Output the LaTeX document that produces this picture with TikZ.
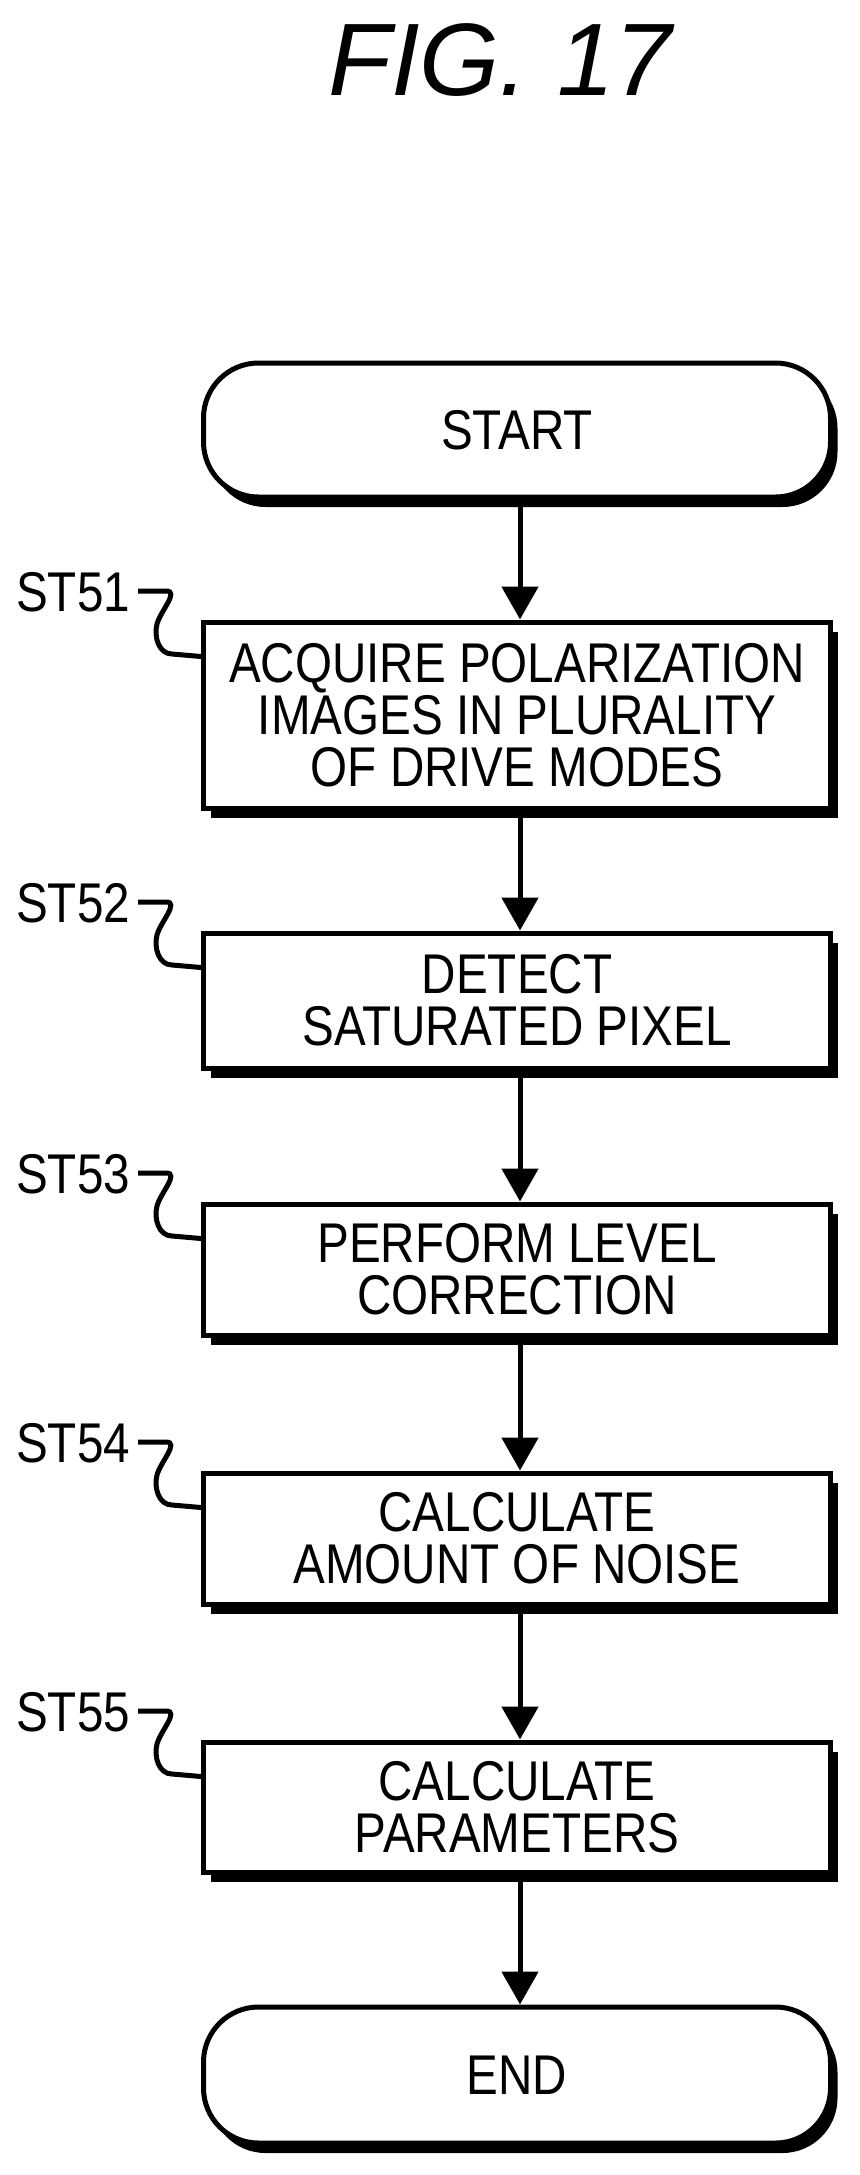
\documentclass[tikz,border=0pt]{standalone}
\usepackage{fontspec}
\setmainfont{Liberation Sans}
\newfontfamily\boxfont{Liberation Sans}[FakeStretch=0.85]
\usetikzlibrary{shadows,arrows.meta,calc}
\begin{document}
\begin{tikzpicture}[x=1pt,y=1pt,
  shd/.style={drop shadow={shadow xshift=7pt,shadow yshift=-10pt,fill=black,opacity=1}},
  pbox/.style={draw,line width=5pt,fill=white,shd,minimum width=627pt,inner sep=0pt,align=center,
    font=\boxfont\fontsize{56}{52}\selectfont},
  term/.style={pbox,rounded corners=55pt},
  lab/.style={anchor=base west,inner sep=0pt,font=\boxfont\fontsize{56}{56}\selectfont},
  arr/.style={line width=5pt,-{Triangle[width=36pt,length=33pt]}},
  sq/.style={line width=5pt}]
\useasboundingbox (0,0) rectangle (859,-2175);
\node[anchor=base,inner sep=0pt,font=\fontsize{103}{103}\selectfont\itshape] (title) at (500,-96) {FIG. 17};
\node[term,minimum height=134pt] (start) at (517,-430) {START};
\node[pbox,minimum height=186pt] (b1) at (517,-715) {ACQUIRE POLARIZATION\\IMAGES IN PLURALITY\\OF DRIVE MODES};
\node[pbox,minimum height=135pt] (b2) at (517,-1000.5) {DETECT\\SATURATED PIXEL};
\node[pbox,minimum height=131pt] (b3) at (517,-1269.5) {PERFORM LEVEL\\CORRECTION};
\node[pbox,minimum height=131pt] (b4) at (517,-1538.5) {CALCULATE\\AMOUNT OF NOISE};
\node[pbox,minimum height=130pt] (b5) at (517,-1807) {CALCULATE\\PARAMETERS};
\node[term,minimum height=136pt] (end) at (517,-2075) {END};
\foreach \b/\t/\n in {b1/622/ST51,b2/933/ST52,b3/1204/ST53,b4/1473/ST54,b5/1742/ST55}{
  \node[lab] (l\b) at (16,-\t+11) {\n};
  \coordinate (e\b) at ($(\b.north west)+(0,-37)$);
  \draw[sq] ($(l\b.base east)+(8,20)$) -- ++(28,0) to[out=0,in=75] (157,-\t-2) to[out=-105,in=180] (172,-\t-32) -- (e\b);
}
\draw[arr] (start.south -| 520,0) -- (b1.north -| 520,0);
\draw[arr] (b1.south -| 520,0) -- (b2.north -| 520,0);
\draw[arr] (b2.south -| 520,0) -- (b3.north -| 520,0);
\draw[arr] (b3.south -| 520,0) -- (b4.north -| 520,0);
\draw[arr] (b4.south -| 520,0) -- (b5.north -| 520,0);
\draw[arr] (b5.south -| 520,0) -- (end.north -| 520,0);
\end{tikzpicture}
\end{document}
